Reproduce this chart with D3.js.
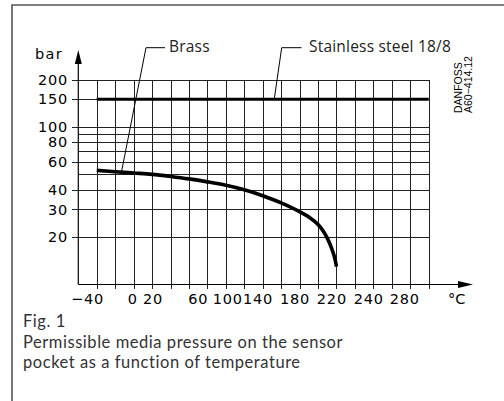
<!DOCTYPE html>
<html><head><meta charset="utf-8">
<script src="https://cdn.jsdelivr.net/npm/d3@7"></script>
<style>body{margin:0;background:#fff}svg{display:block}</style>
</head><body>
<svg id="c" width="504" height="401"></svg>
<script>
// ---- data ----
const brassTemp = [-40, -20, 0, 20, 40, 60, 80, 100, 120, 140, 160, 180, 190, 200, 205, 210, 215, 218, 220];
const brassBar  = [53, 52, 51, 50, 48.5, 46.8, 44.8, 42.6, 39.9, 36.6, 33, 29, 26.8, 24, 22.1, 19.7, 16.8, 14.8, 13];
const steelTemp = [-40, 320];
const steelBar  = [150, 150];
const xGridValues = [-40, -20, 0, 20, 40, 60, 80, 100, 120, 140, 160, 180, 200, 220, 240, 260, 280, 300, 320];
const xTickLabels = ["\u221240", "0", "20", "60", "100", "140", "180", "220", "240", "280"];
const xTickLabelAt = [-50, -1, 21, 70, 102, 135, 175, 215, 255, 294];
const yGridValues = [20, 30, 40, 50, 60, 70, 80, 90, 100, 150, 200];
const yTickValues = [20, 30, 40, 60, 80, 100, 150, 200];
const captionLines = ["Fig. 1", "Permissible media pressure on the sensor", "pocket as a function of temperature"];

const svg = d3.select("#c");
const x = d3.scaleLinear().domain([-60, 320]).range([78.3, 428.7]);
const y = d3.scaleLog().domain([10, 200]).range([284.5, 79.5]);
const x0 = x(-60), yAxis = 284.5;

// frame
svg.append("path").attr("d", "M12,401V5H504").attr("fill", "none").attr("stroke", "#555").attr("stroke-width", 1.6);

const grid = svg.append("g").attr("stroke", "#222").attr("stroke-width", 1).attr("shape-rendering", "crispEdges");
grid.selectAll("line.h").data(yGridValues).join("line")
  .attr("x1", x0).attr("x2", x(320)).attr("y1", d => Math.round(y(d)) + 0.5).attr("y2", d => Math.round(y(d)) + 0.5);
grid.selectAll("line.v").data(xGridValues).join("line")
  .attr("x1", d => Math.round(x(d)) + 0.5).attr("x2", d => Math.round(x(d)) + 0.5)
  .attr("y1", y(200)).attr("y2", yAxis + 4);
grid.selectAll("line.t").data(yTickValues).join("line")
  .attr("x1", x0 - 6).attr("x2", x0).attr("y1", d => Math.round(y(d)) + 0.5).attr("y2", d => Math.round(y(d)) + 0.5);

// axes
svg.append("line").attr("x1", x0).attr("x2", x0).attr("y1", yAxis).attr("y2", 60).attr("stroke", "#000").attr("stroke-width", 1.2);
svg.append("path").attr("d", `M${x0},50L${x0 + 3.5},64L${x0 - 3.5},64Z`).attr("fill", "#000");
svg.append("line").attr("x1", x0).attr("x2", 462).attr("y1", yAxis).attr("y2", yAxis).attr("stroke", "#000").attr("stroke-width", 1.2);
svg.append("path").attr("d", `M473,${yAxis}L458,${yAxis - 3.5}L458,${yAxis + 3.5}Z`).attr("fill", "#000");

const axisFont = {family: "DejaVu Sans", size: 14.5, ls: 0.8};
// y labels
svg.append("g").selectAll("text").data(yTickValues).join("text")
  .attr("x", 68).attr("y", d => y(d)).attr("dy", "0.36em").attr("text-anchor", "end")
  .attr("font-family", axisFont.family).attr("font-size", axisFont.size).attr("letter-spacing", axisFont.ls)
  .attr("fill", "#000").text(d => d);
svg.append("text").attr("x", 35).attr("y", 58.5).attr("font-family", axisFont.family).attr("font-size", axisFont.size)
  .attr("letter-spacing", 1.3).text("bar");

// x labels
svg.append("g").selectAll("text").data(xTickLabels).join("text")
  .attr("x", (d, i) => x(xTickLabelAt[i])).attr("y", 303.5).attr("text-anchor", "middle")
  .attr("font-family", axisFont.family).attr("font-size", axisFont.size).attr("letter-spacing", axisFont.ls)
  .attr("fill", "#000").text(d => d);
svg.append("text").attr("x", 448).attr("y", 303.5).attr("font-family", axisFont.family).attr("font-size", axisFont.size).text("\u00B0C");

// series
const line = d3.line().x(d => x(d[0])).y(d => y(d[1]));
svg.append("path").datum(steelTemp.map((t, i) => [t, steelBar[i]]))
  .attr("d", line).attr("fill", "none").attr("stroke", "#000").attr("stroke-width", 3);
svg.append("path").datum(brassTemp.map((t, i) => [t, brassBar[i]]))
  .attr("d", line.curve(d3.curveMonotoneX)).attr("fill", "none").attr("stroke", "#000").attr("stroke-width", 3.6);

// leaders
svg.append("path").attr("d", `M165,47.7H146L${x(-13)},${y(52.4)}`).attr("fill", "none").attr("stroke", "#000").attr("stroke-width", 1);
svg.append("path").attr("d", `M301.5,47.7H281.7L${x(152.5)},${y(150)}`).attr("fill", "none").attr("stroke", "#000").attr("stroke-width", 1);
svg.append("text").attr("x", 169).attr("y", 52).attr("font-family", "Open Sans").attr("font-size", 15.5).attr("letter-spacing", 0.2).attr("fill", "#222").text("Brass");
svg.append("text").attr("x", 309).attr("y", 52).attr("font-family", "Open Sans").attr("font-size", 15.5).attr("letter-spacing", 0.2).attr("fill", "#222").text("Stainless steel 18/8");

// danfoss code
const dg = svg.append("g").attr("transform", "translate(462,113) rotate(-90)").attr("font-family", "Liberation Sans").attr("font-size", 10.5).attr("fill", "#000");
dg.append("text").attr("x", 0).attr("y", 0).text("DANFOSS");
dg.append("text").attr("x", 0).attr("y", 10).text("A60\u2212414.12");

// caption
svg.append("g").selectAll("text").data(captionLines).join("text")
  .attr("x", 23).attr("y", (d, i) => [327, 348, 368][i])
  .attr("font-family", "Lato").attr("font-size", 16.5).attr("letter-spacing", 0.55).attr("fill", "#333").text(d => d);
</script>
</body></html>
